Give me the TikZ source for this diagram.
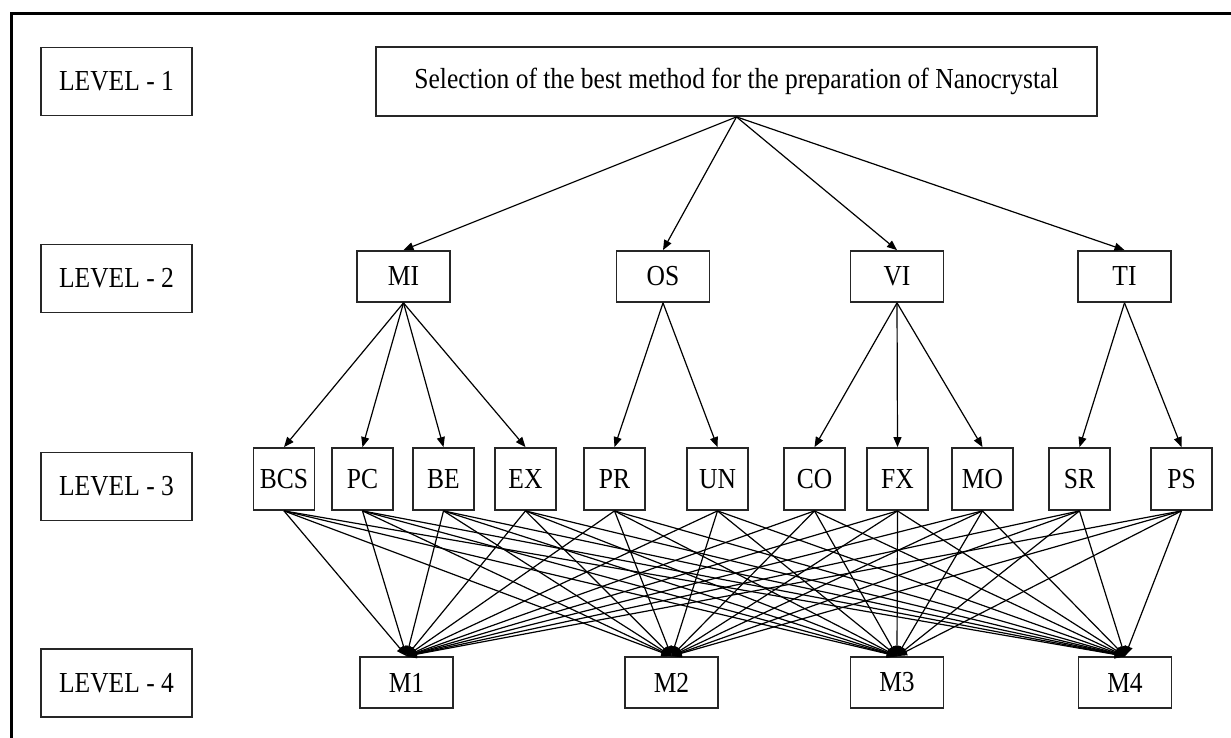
\documentclass[tikz,border=0pt]{standalone}
\usepackage{fontspec}
\setmainfont[FakeStretch=0.88]{Liberation Serif}
\usetikzlibrary{arrows.meta}

\begin{document}
\begin{tikzpicture}[
    x=1pt, y=-1pt,
    every node/.style={font=\fontsize{29}{32}\selectfont},
    box/.style={draw=black!85, line width=1.8pt, inner sep=0pt, minimum width=93pt, minimum height=51pt},
    levelbox/.style={box, minimum width=151pt, minimum height=68pt},
    subbox/.style={box, minimum width=61pt, minimum height=62pt},
    arrow/.style={-{Triangle[length=10pt, width=8pt]}, line width=1.2pt}
  ]
  \useasboundingbox (0,0) rectangle (1231,738);
  \draw[line width=3pt] (11,738) -- (11,14) -- (1231,14);

  % level labels on the left
  \foreach \lvl/\y in {1/81.5, 2/278.5, 3/486.5, 4/683}
    \node[levelbox] (level\lvl) at (116.5,\y) {LEVEL - \lvl};

  % goal
  \node[box, minimum width=721pt, minimum height=69pt] (goal) at (736.5,81.5)
    {Selection of the best method for the preparation of Nanocrystal};

  % criteria
  \foreach \name/\x in {MI/403.5, OS/663, VI/897, TI/1124.5}
    \node[box] (\name) at (\x,276.5) {\name};

  % sub-criteria
  \foreach \name/\x in {BCS/284, PC/362.5, BE/443.5, EX/525.5, PR/614.5, UN/717.5,
                        CO/814.5, FX/897.5, MO/982.5, SR/1079.5, PS/1181.5}
    \node[subbox] (\name) at (\x,479) {\name};

  % alternatives
  \foreach \name/\x in {M1/406.5, M2/671.5, M3/897, M4/1125}
    \node[box] (\name) at (\x,682.5) {\name};

  \foreach \c in {MI, OS, VI, TI}
    \draw[arrow] (goal.south) -- (\c.north);
  \foreach \c/\s in {MI/BCS, MI/PC, MI/BE, MI/EX, OS/PR, OS/UN,
                     VI/CO, VI/FX, VI/MO, TI/SR, TI/PS}
    \draw[arrow] (\c.south) -- (\s.north);
  \foreach \s in {BCS, PC, BE, EX, PR, UN, CO, FX, MO, SR, PS}
    \foreach \m in {M1, M2, M3, M4}
      \draw[arrow] (\s.south) -- (\m.north);
\end{tikzpicture}
\end{document}
